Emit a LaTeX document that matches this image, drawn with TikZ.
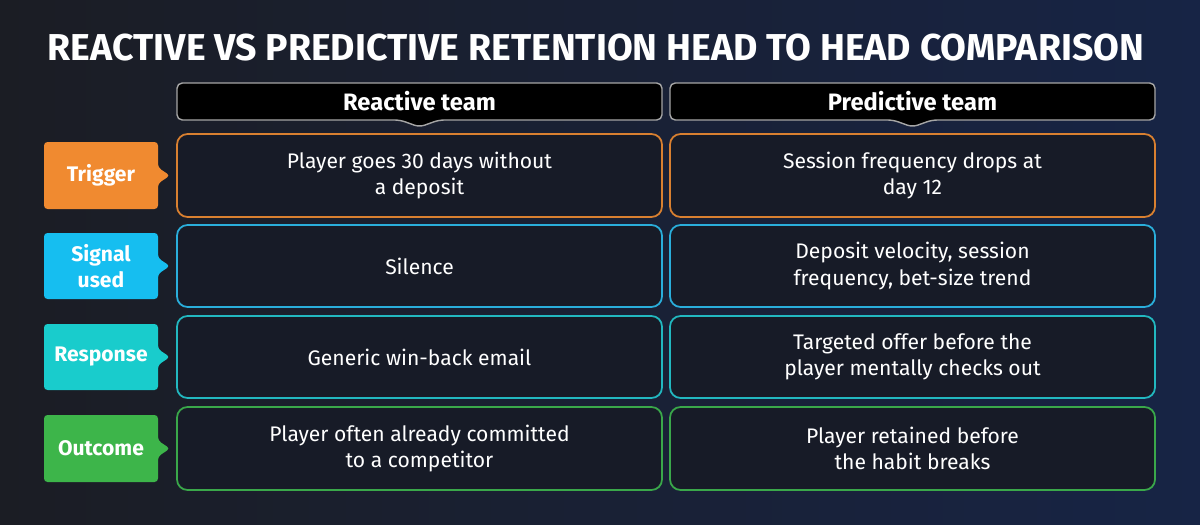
\documentclass[tikz,border=0pt]{standalone}
\usepackage{fontspec}
\setmainfont{Fira Sans}
\usetikzlibrary{calc}
\definecolor{bgL}{HTML}{1B1D24}
\definecolor{bgR}{HTML}{172445}
\definecolor{cellbg}{HTML}{171B27}
\definecolor{cOr}{HTML}{F08A30}
\definecolor{cCy}{HTML}{16BEF0}
\definecolor{cTe}{HTML}{19CCCC}
\definecolor{cGr}{HTML}{3DB54A}
\definecolor{bOr}{HTML}{D98030}
\definecolor{bCy}{HTML}{2AAEDB}
\definecolor{bTe}{HTML}{22B8C0}
\definecolor{bGr}{HTML}{3AA84A}
\tikzset{
 cell/.style={draw=#1,line width=1pt,fill=cellbg,rounded corners=6pt,text=white,align=center,font=\fontsize{12}{15}\selectfont},
 lab/.style={text=white,align=center,font=\bfseries\fontsize{12}{15}\selectfont},
 hdr/.style={text=white,font=\bfseries\fontsize{13.5}{16}\selectfont}
}
\begin{document}
\begin{tikzpicture}[x=0.02cm,y=-0.02cm]
\useasboundingbox (0,0) rectangle (1200,524);
\shade[left color=bgL,right color=bgR] (0,0) rectangle (1200,524);
\node[text=white,font=\bfseries\fontsize{21.3}{24}\selectfont] (title) at (596,48) {REACTIVE VS PREDICTIVE RETENTION HEAD TO HEAD COMPARISON};
\foreach \n/\x/\t in {hr/177/Reactive team,hp/670/Predictive team}{
 \draw[draw=gray!70,line width=0.8pt,fill=black,rounded corners=3pt]
  (\x,83) -- (\x+485,83) -- (\x+485,120) -- (\x+262,120) -- (\x+242.5,127) -- (\x+223,120) -- (\x,120) -- cycle;
 \node[hdr] (\n) at (\x+242.5,101) {\t};
}
\foreach \i/\ya/\yb/\tc/\bc/\lab/\ra/\pa in {
 1/134/217/cOr/bOr/Trigger/{Player goes 30 days without\\a deposit}/{Session frequency drops at\\day 12},
 2/225/307/cCy/bCy/{Signal\\used}/{Silence}/{Deposit velocity, session\\frequency, bet-size trend},
 3/316/398/cTe/bTe/Response/{Generic win-back email}/{Targeted offer before the\\player mentally checks out},
 4/407/490/cGr/bGr/Outcome/{Player often already committed\\to a competitor}/{Player retained before\\the habit breaks}}{
 \node[cell=\bc,minimum width=485*0.02cm,minimum height=(\yb-\ya)*0.02cm] (r\i) at (419.5,{(\ya+\yb)/2}) {\ra};
 \node[cell=\bc,minimum width=485*0.02cm,minimum height=(\yb-\ya)*0.02cm] (p\i) at (912.5,{(\ya+\yb)/2}) {\pa};
 \fill[\tc,rounded corners=2pt] (44,\ya+8) -- (158,\ya+8) -- (158,{(\ya+\yb)/2-8}) -- (170,{(\ya+\yb)/2}) -- (158,{(\ya+\yb)/2+8}) -- (158,\yb-8) -- (44,\yb-8) -- cycle;
 \node[lab] (l\i) at (101,{(\ya+\yb)/2}) {\lab};
}
\end{tikzpicture}
\end{document}
